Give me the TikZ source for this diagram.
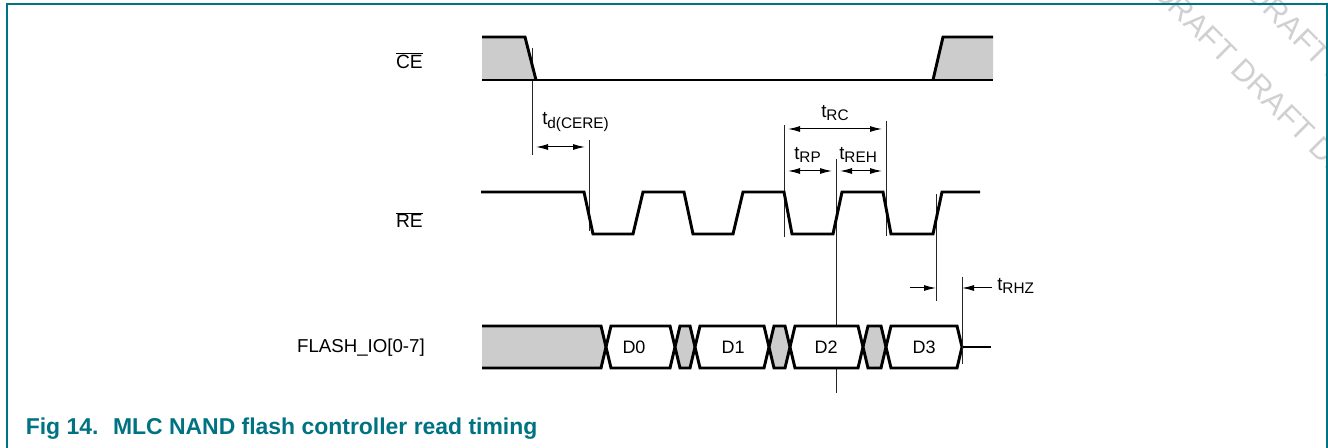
\documentclass[tikz,border=0pt]{standalone}
\usepackage{fontspec}
\setmainfont{Liberation Sans}
\usetikzlibrary{arrows.meta}
\definecolor{nxpteal}{RGB}{0,115,131}
\definecolor{shadegray}{RGB}{204,204,204}
\definecolor{wmgray}{RGB}{208,208,208}
\newcommand\tlab[1]{t\raisebox{-0.35ex}{\fontsize{11.5}{13}\selectfont #1}}
\tikzset{
  sig/.style={line width=2.2pt, line join=miter, line cap=butt},
  mark line/.style={line width=0.75pt, black!85},
  dim/.style={line width=0.75pt, {Latex[length=9pt,width=4.5pt]}-{Latex[length=9pt,width=4.5pt]}, shorten <=3pt, shorten >=3pt},
  dimr/.style={line width=0.75pt, -{Latex[length=9pt,width=4.5pt]}},
  lab/.style={font=\fontsize{14}{16}\selectfont, inner sep=0pt},
  dlab/.style={font=\fontsize{13.5}{16}\selectfont, inner sep=0pt},
  sublab/.style={font=\fontsize{14}{16}\selectfont, inner sep=0pt, anchor=west},
  wm/.style={font=\fontsize{23}{27}\selectfont, text=wmgray, rotate=-45, inner sep=0pt},
}
\begin{document}
\begin{tikzpicture}[x=0.75pt, y=-0.75pt]
\useasboundingbox (0,0) rectangle (1328,448);
% watermark
\begin{scope}
\clip (0,0) rectangle (1328,448);
\node[wm] (wm1) at (1273,100) {DRAFT DRAFT DRAFT};
\node[wm] (wm2) at (1289,24) {DRAFT DRAFT DRAFT};
\end{scope}
% frame
\draw[nxpteal, line width=1.5pt] (6.5,448) -- (6.5,4.5) -- (1327,4.5) -- (1327,448);
% caption
\node[anchor=base west, inner sep=0pt, text=nxpteal, font=\fontsize{17.2}{20}\selectfont\bfseries] (cap) at (25.5,435) {Fig 14.\hspace{11pt}MLC NAND flash controller read timing};
% labels
\node[lab, anchor=east, font=\fontsize{14.4}{16}\selectfont] (ce) at (423,61) {$\overline{\mbox{CE}}$};
\node[lab, anchor=east, font=\fontsize{14.4}{16}\selectfont] (re) at (423,220) {$\overline{\mbox{RE}}$};
\node[lab, anchor=east] (io) at (425,348) {FLASH\_IO[0-7]};
% timing marker lines (drawn below waveforms)
\coordinate (m1t) at (532,48);  \coordinate (m1b) at (532,155);
\coordinate (m2t) at (589,140); \coordinate (m2b) at (589,231);
\coordinate (m3t) at (784,125); \coordinate (m3b) at (784,237);
\coordinate (m4t) at (836,159); \coordinate (m4b) at (836,393);
\coordinate (m5t) at (886,121); \coordinate (m5b) at (886,236);
\coordinate (m6t) at (936,194); \coordinate (m6b) at (936,301);
\coordinate (m7t) at (962,277); \coordinate (m7b) at (962,364);
\foreach \m in {m1,m2,m3,m4,m5,m6,m7}{\draw[mark line] (\m t) -- (\m b);}
% CE
\fill[shadegray] (482,37) -- (525,37) -- (536,80) -- (482,80) -- cycle;
\fill[shadegray] (933,80) -- (943,37) -- (993,37) -- (993,80) -- cycle;
\draw[sig] (482,37) -- (525,37) -- (536,80);
\draw[sig] (482,80) -- (993,80);
\draw[sig] (933,80) -- (943,37) -- (993,37);
% RE
\draw[sig] (481,192) -- (584,192) -- (593,234) -- (633,234) -- (643,192) -- (684,192) -- (693,234) -- (733,234) -- (743,192) -- (784,192) -- (792,234) -- (833,234) -- (842,192) -- (883,192) -- (891,234) -- (933,234) -- (942,192) -- (980,192);
% bus
\fill[shadegray] (482,326) -- (601,326) -- (606,347) -- (601,368) -- (482,368) -- cycle;
\draw[sig] (482,326) -- (601,326) -- (606,347) -- (601,368) -- (482,368);
\foreach \a/\b/\f in {606/675/white, 675/695/shadegray, 695/769/white, 769/790/shadegray, 790/863/white, 863/886/shadegray, 886/962/white}{
  \filldraw[sig, fill=\f] (\a+5,326) -- (\b-5,326) -- (\b,347) -- (\b-5,368) -- (\a+5,368) -- (\a,347) -- cycle;
}
\draw[sig] (962,347) -- (991,347);
\draw[mark line] (m7t) -- (m7b);
\node[dlab] (d0) at (634,347) {D0};
\node[dlab] (d1) at (733,347) {D1};
\node[dlab] (d2) at (826,347) {D2};
\node[dlab] (d3) at (924,347) {D3};
% dimension arrows
\draw[dim] (m1t |- 0,147) -- (m2t |- 0,147);
\draw[dim] (m3t |- 0,129) -- (m5t |- 0,129);
\draw[dim] (m3t |- 0,171) -- (m4t |- 0,171);
\draw[dim] (m4t |- 0,171) -- (m5t |- 0,171);
\coordinate (rhzl) at (910,288);
\coordinate (rhzr) at (992,288);
\draw[dimr] (rhzl) -- (m6t |- rhzl);
\draw[dimr] (rhzr) -- (m7t |- rhzr);
% dimension labels
\node[sublab] (tcere) at (542,122) {\tlab{d(CERE)}};
\node[sublab] (trc) at (821,113) {\tlab{RC}};
\node[sublab] (trp) at (794,155) {\tlab{RP}};
\node[sublab] (treh) at (839,155) {\tlab{REH}};
\node[sublab] (trhz) at (997,286) {\tlab{RHZ}};
\end{tikzpicture}
\end{document}
